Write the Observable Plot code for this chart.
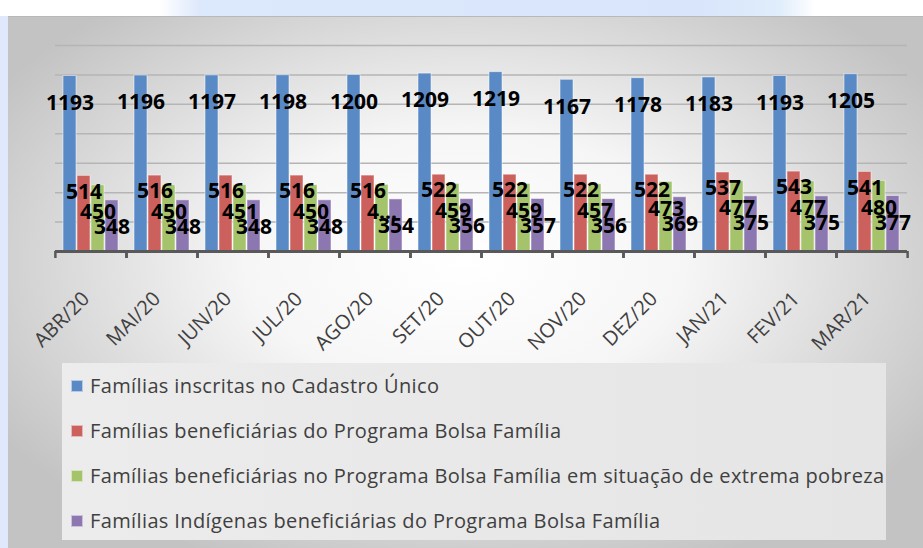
<!DOCTYPE html>
<html><head><meta charset="utf-8">
<script src="https://cdn.jsdelivr.net/npm/d3@7"></script>
<script src="https://cdn.jsdelivr.net/npm/@observablehq/plot@0.6"></script>
<style>
html,body{margin:0;padding:0;}
body{width:923px;height:548px;overflow:hidden;position:relative;background:#dfe9fb;font-family:"Open Sans",sans-serif;}
#topband{position:absolute;left:0;top:0;width:923px;height:16px;background:linear-gradient(to right,#fff 0,#fff 160px,#dce8fb 200px,#d9e5fb 700px,#e0edfb 780px,#fff 815px,#fff 100%);}
#box{position:absolute;left:8px;top:16px;width:915px;height:532px;border-top:1px solid #b9b9b9;background:radial-gradient(ellipse 60% 62% at 50% 46%, #ffffff 0%, #f6f6f6 40%, #c3c3c3 100%);}
#chart{position:absolute;left:0;top:0;}
#legend{position:absolute;left:62px;top:363px;width:824px;height:177px;background:linear-gradient(to right,#ececec,#e5e5e5);}
.item{height:45px;display:flex;align-items:center;padding-left:9px;font-size:20px;letter-spacing:0.38px;color:#404040;white-space:nowrap;}
.sw{width:12px;height:12px;margin-right:7px;box-sizing:border-box;border:1px solid rgba(255,255,255,0.55);flex:none;}
</style>
</head>
<body>
<div id="topband"></div>
<div id="box"></div>
<div id="chart"></div>
<div id="legend"></div>
<script>
const months = ["ABR/20","MAI/20","JUN/20","JUL/20","AGO/20","SET/20","OUT/20","NOV/20","DEZ/20","JAN/21","FEV/21","MAR/21"];
const seriesNames = [
  "Famílias inscritas no Cadastro Único",
  "Famílias beneficiárias do Programa Bolsa Família",
  "Famílias beneficiárias no Programa Bolsa Família em situação de extrema pobreza",
  "Famílias Indígenas beneficiárias do Programa Bolsa Família"
];
const cadastro  = [1193,1196,1197,1198,1200,1209,1219,1167,1178,1183,1193,1205];
const bolsa     = [514,516,516,516,516,522,522,522,522,537,543,541];
const extrema   = [450,450,451,450,453,459,459,457,473,477,477,480];
const indigenas = [348,348,348,348,354,356,357,356,369,375,375,377];
// data labels as displayed (one was truncated in the original)
const labelOverrides = {"AGO/20|2": "4…"};
const colors = ["#5a8ac6","#cb605c","#a5c36a","#8d77b1"];
const yTicks = [0,200,400,600,800,1000,1200,1400];

const values = [cadastro, bolsa, extrema, indigenas];
const long = [];
months.forEach((m, i) => values.forEach((arr, j) => {
  long.push({month: m, series: seriesNames[j], value: arr[i],
             label: labelOverrides[m + "|" + j] ?? String(arr[i])});
}));

const W = 923, ML = 53, MR = 15;
const band = (W - ML - MR) / months.length;

const labelMarks = seriesNames.map((s, j) =>
  Plot.text(long.filter(d => d.series === s), {
    fx: "month", x: "series", y: "value", text: "label",
    dy: j === 1 ? 16 : 27, fontSize: 21, fontWeight: "bold", fill: "#000",
    fontFamily: "Open Sans"
  })
);

const chart = Plot.plot({
  width: W, height: 350,
  marginTop: 45, marginBottom: 99, marginLeft: ML, marginRight: MR,
  style: {background: "transparent", fontFamily: "Open Sans", overflow: "visible"},
  fx: {domain: months, padding: 0, label: null},
  x: {domain: seriesNames, paddingInner: 0.06, paddingOuter: 0.4, axis: null},
  y: {domain: [0, 1400], axis: null},
  color: {domain: seriesNames, range: colors},
  marks: [
    Plot.gridY(yTicks, {stroke: "#b5b5b5", strokeOpacity: 1, strokeWidth: 1.5}),
    Plot.barY(long, {fx: "month", x: "series", y: "value", fill: "series",
                     stroke: "#ffffff", strokeOpacity: 0.5, strokeWidth: 1}),
    Plot.ruleY([0], {stroke: "#595959", strokeWidth: 3}),
    Plot.axisFx({anchor: "bottom", tickSize: 7, tickFormat: () => "", dx: -band / 2, stroke: "#595959", strokeWidth: 2.5, label: null}),
    Plot.axisFx({anchor: "bottom", tickSize: 7, tickFormat: () => "", dx: band / 2, stroke: "#595959", strokeWidth: 2.5, label: null}),
    Plot.axisFx({anchor: "bottom", tickSize: 0, tickRotate: -45, tickPadding: 44, dx: -5, fontSize: 20,
                 fill: "#404040", label: null}),
    ...labelMarks
  ]
});
document.getElementById("chart").appendChild(chart);

const legend = document.getElementById("legend");
seriesNames.forEach((s, j) => {
  const it = document.createElement("div");
  it.className = "item";
  const sw = document.createElement("span");
  sw.className = "sw";
  sw.style.background = colors[j];
  const t = document.createElement("span");
  t.textContent = s;
  it.appendChild(sw); it.appendChild(t);
  legend.appendChild(it);
});
</script>
</body></html>
